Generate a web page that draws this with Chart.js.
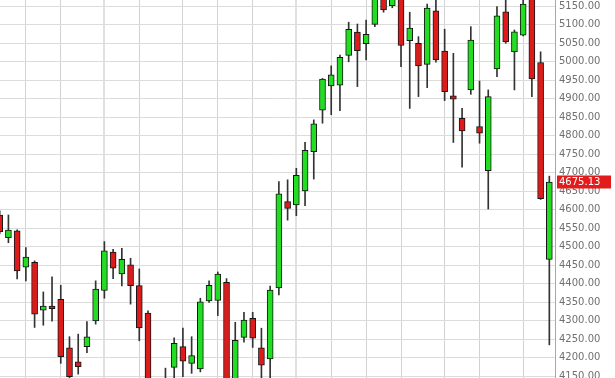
<!DOCTYPE html>
<html>
<head>
<meta charset="utf-8">
<script src="https://cdn.jsdelivr.net/npm/chart.js@4"></script>
<style>
  html, body { margin: 0; padding: 0; background: #ffffff; }
  #wrap { width: 615px; height: 378px; position: relative; }
</style>
</head>
<body>
<div id="wrap"><canvas id="c"></canvas></div>
<script>
// ---- data (daily candles) ----
const opens  = [4586,4525,4543,4445,4458,4329,4340,4358,4227,4189,4230,4300,4382,4486,4427,4451,4395,4321,4112,4095,
                4174,4230,4185,4170,4354,4355,4404,4135,4255,4307,4227,4197,4389,4622,4613,4651,4757,4869,4935,4937,
                5017,5080,5049,5101,5188,5152,5185,5057,5050,4993,5138,5029,4908,4847,4924,4825,4706,4981,5135,5027,
                5072,5182,4998,4466];
const highs  = [4597,4586,4546,4498,4462,4378,4419,4396,4257,4264,4298,4408,4514,4493,4496,4469,4440,4327,4138,4172,
                4254,4280,4257,4361,4408,4432,4414,4296,4323,4323,4280,4394,4676,4681,4712,4782,4843,4955,4989,5018,
                5107,5102,5113,5195,5200,5190,5195,5134,5068,5156,5178,5088,5023,4874,5095,4948,4924,5149,5178,5086,
                5180,5195,5027,4691];
const lows   = [4535,4511,4413,4408,4282,4288,4299,4185,4140,4156,4214,4291,4361,4414,4394,4345,4246,4100,4065,4075,
                4138,4149,4158,4162,4350,4314,4110,4120,4242,4228,4140,4140,4370,4572,4584,4611,4683,4834,4857,4868,
                5000,4933,5005,5095,5134,5146,4987,4874,4906,4930,4999,4895,4782,4715,4912,4780,4602,4960,5050,4924,
                5070,4906,4628,4235];
const closes = [4541,4545,4435,4472,4318,4340,4333,4203,4149,4176,4257,4386,4489,4442,4466,4395,4281,4120,4085,4130,
                4239,4191,4206,4351,4396,4426,4130,4247,4302,4253,4180,4383,4643,4604,4693,4761,4832,4953,4965,5012,
                5088,5030,5074,5180,5140,5175,5044,5091,4989,5145,5005,4919,4899,4813,5059,4807,4906,5124,5054,5081,
                5156,4954,4630,4675.13];
// candle indexes where the vertical (weekly) grid lines fall
const gridIdx = [3,7,12,16,21,25,29,34,38,42,46,51,55,60];
// price axis tick values
const yTicks = [4150,4200,4250,4300,4350,4400,4450,4500,4550,4600,4650,4700,4750,4800,4850,4900,4950,5000,5050,5100,5150];
const lastPrice = closes[closes.length - 1];

// ---- build datasets ----
const idx = opens.map((_, i) => i);
const bodyData = idx.map(i => ({ x: i, y: [opens[i], closes[i]] }));
const wickData = idx.map(i => ({ x: i, y: [lows[i], highs[i]] }));
const GREEN = '#22dd22', RED = '#dd1b1b';
const bodyColors = idx.map(i => closes[i] >= opens[i] ? GREEN : RED);

const lastLabel = {
  id: 'lastLabel',
  afterDraw(chart) {
    const s = chart.scales.y;
    const y = s.getPixelForValue(lastPrice);
    const ctx = chart.ctx;
    ctx.save();
    ctx.fillStyle = '#e21c1c';
    ctx.fillRect(s.left + 2, Math.round(y) - 6.5, 54, 13);
    ctx.fillStyle = '#ffffff';
    ctx.font = '10px "DejaVu Sans"';
    ctx.textBaseline = 'middle';
    ctx.textAlign = 'left';
    ctx.fillText(lastPrice.toFixed(2), s.left + 4, Math.round(y) + 0.5);
    ctx.restore();
  }
};

new Chart(document.getElementById('c'), {
  type: 'bar',
  data: {
    datasets: [
      {
        label: 'body',
        data: bodyData,
        backgroundColor: bodyColors,
        borderColor: '#161616',
        borderWidth: 1,
        borderSkipped: false,
        barThickness: 6,
        grouped: false,
        order: 0
      },
      {
        label: 'wick',
        data: wickData,
        backgroundColor: '#333333',
        borderWidth: 0,
        barThickness: 1,
        grouped: false,
        order: 1
      }
    ]
  },
  options: {
    responsive: true,
    maintainAspectRatio: false,
    animation: false,
    layout: { padding: 0 },
    plugins: { legend: { display: false }, tooltip: { enabled: false } },
    scales: {
      x: {
        type: 'linear',
        min: 0.035,
        max: 63.65,
        offset: false,
        afterBuildTicks(scale) { scale.ticks = gridIdx.map(v => ({ value: v })); },
        ticks: { display: false },
        grid: {
          offset: false,
          drawTicks: false,
          color: (c) => (c.tick && (c.tick.value === 12 || c.tick.value === 34)) ? '#e0e0e0' : '#d2d2d2',
          lineWidth: (c) => (c.tick && (c.tick.value === 12 || c.tick.value === 34)) ? 2 : 1
        },
        border: { display: false }
      },
      y: {
        type: 'linear',
        position: 'right',
        min: 4145.4,
        max: 5167.0,
        afterBuildTicks(scale) { scale.ticks = yTicks.map(v => ({ value: v })); },
        afterFit(scale) { scale.width = 60; scale.paddingTop = 0; scale.paddingBottom = 0; },
        ticks: {
          callback: (v) => Number(v).toFixed(2),
          font: { family: 'DejaVu Sans', size: 10 },
          color: '#707070',
          padding: 4
        },
        grid: { color: '#dcdcdc', drawTicks: false },
        border: { color: '#a8a8a8', width: 1 }
      }
    }
  },
  plugins: [lastLabel]
});
</script>
</body>
</html>
